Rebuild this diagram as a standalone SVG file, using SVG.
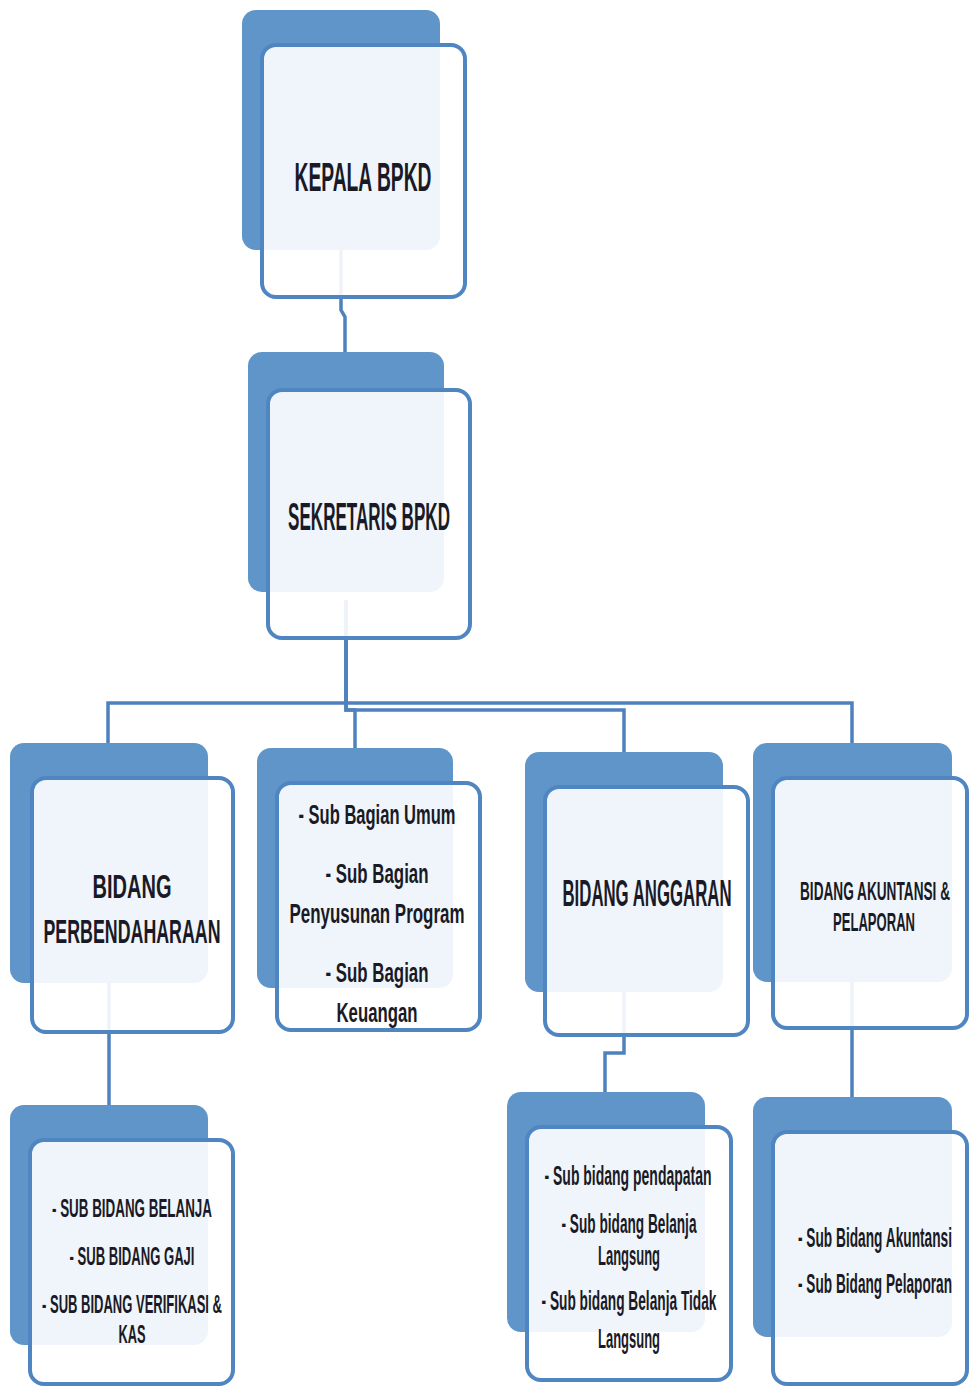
<svg xmlns="http://www.w3.org/2000/svg" width="969" height="1387" viewBox="0 0 969 1387">
<style>
.back{fill:#6095c9}
.front{fill:#ffffff;fill-opacity:0.9;stroke:#4f86c2;stroke-width:4}
.t{font-family:"Liberation Sans",Arial,sans-serif;font-weight:bold;fill:#1a1a26;text-anchor:middle}
.conn{fill:none;stroke:#4f81bd;stroke-width:3.5}
</style>
<rect width="969" height="1387" fill="#ffffff"/>
<g id="connectors">
<path class="conn" d="M341 240 V310 L345 317 V352"/>
<path class="conn" d="M346 600 V703 H108 V743"/>
<path class="conn" d="M346 600 V710 H355 V748"/>
<path class="conn" d="M346 600 V710 H624 V752"/>
<path class="conn" d="M346 703 H852 V743"/>
<path class="conn" d="M109 980 V1105"/>
<path class="conn" d="M624 990 V1053 H605 V1092"/>
<path class="conn" d="M852 980 V1097"/>
</g>
<g id="kepala">
<rect class="back" x="242" y="10" width="198" height="240" rx="14"/>
<rect class="front" x="262" y="45" width="203" height="252" rx="14"/>
<text class="t" x="363" y="191" font-size="40" textLength="137" lengthAdjust="spacingAndGlyphs">KEPALA BPKD</text>
</g>
<g id="sekretaris">
<rect class="back" x="248" y="352" width="196" height="240" rx="14"/>
<rect class="front" x="268" y="390" width="202" height="248" rx="14"/>
<text class="t" x="369" y="530" font-size="38" textLength="162" lengthAdjust="spacingAndGlyphs">SEKRETARIS BPKD</text>
</g>
<g id="perbendaharaan">
<rect class="back" x="10" y="743" width="198" height="240" rx="14"/>
<rect class="front" x="32" y="778" width="201" height="254" rx="14"/>
<text class="t" x="132" y="898" font-size="33" textLength="79" lengthAdjust="spacingAndGlyphs">BIDANG</text>
<text class="t" x="132" y="943" font-size="33" textLength="177" lengthAdjust="spacingAndGlyphs">PERBENDAHARAAN</text>
</g>
<g id="subbagian">
<rect class="back" x="257" y="748" width="196" height="240" rx="14"/>
<rect class="front" x="277" y="783" width="203" height="247" rx="14"/>
<text class="t" x="377" y="824" font-size="28" textLength="157" lengthAdjust="spacingAndGlyphs">- Sub Bagian Umum</text>
<text class="t" x="377" y="883" font-size="28" textLength="103" lengthAdjust="spacingAndGlyphs">- Sub Bagian</text>
<text class="t" x="377" y="923" font-size="28" textLength="175" lengthAdjust="spacingAndGlyphs">Penyusunan Program</text>
<text class="t" x="377" y="982" font-size="28" textLength="103" lengthAdjust="spacingAndGlyphs">- Sub Bagian</text>
<text class="t" x="377" y="1022" font-size="28" textLength="81" lengthAdjust="spacingAndGlyphs">Keuangan</text>
</g>
<g id="anggaran">
<rect class="back" x="525" y="752" width="198" height="240" rx="14"/>
<rect class="front" x="545" y="787" width="203" height="248" rx="14"/>
<text class="t" x="647" y="906" font-size="36" textLength="169" lengthAdjust="spacingAndGlyphs">BIDANG ANGGARAN</text>
</g>
<g id="akuntansi">
<rect class="back" x="753" y="743" width="199" height="239" rx="14"/>
<rect class="front" x="773" y="778" width="194" height="250" rx="14"/>
<text class="t" x="875" y="900" font-size="26" textLength="150" lengthAdjust="spacingAndGlyphs">BIDANG AKUNTANSI &amp;</text>
<text class="t" x="874" y="931" font-size="26" textLength="82" lengthAdjust="spacingAndGlyphs">PELAPORAN</text>
</g>
<g id="subbidang-perbendaharaan">
<rect class="back" x="10" y="1105" width="198" height="240" rx="14"/>
<rect class="front" x="30" y="1140" width="203" height="244" rx="14"/>
<text class="t" x="132" y="1217" font-size="25" textLength="160" lengthAdjust="spacingAndGlyphs">- SUB BIDANG  BELANJA</text>
<text class="t" x="132" y="1265" font-size="25" textLength="125" lengthAdjust="spacingAndGlyphs">- SUB BIDANG GAJI</text>
<text class="t" x="132" y="1313" font-size="25" textLength="180" lengthAdjust="spacingAndGlyphs">- SUB BIDANG VERIFIKASI &amp;</text>
<text class="t" x="132" y="1343" font-size="25" textLength="27" lengthAdjust="spacingAndGlyphs">KAS</text>
</g>
<g id="subbidang-anggaran">
<rect class="back" x="507" y="1092" width="198" height="240" rx="14"/>
<rect class="front" x="527" y="1127" width="204" height="253" rx="14"/>
<text class="t" x="628" y="1185" font-size="28" textLength="167" lengthAdjust="spacingAndGlyphs">- Sub bidang pendapatan</text>
<text class="t" x="629" y="1233" font-size="28" textLength="135" lengthAdjust="spacingAndGlyphs">- Sub bidang Belanja</text>
<text class="t" x="629" y="1265" font-size="28" textLength="62" lengthAdjust="spacingAndGlyphs">Langsung</text>
<text class="t" x="629" y="1310" font-size="28" textLength="175" lengthAdjust="spacingAndGlyphs">- Sub bidang Belanja Tidak</text>
<text class="t" x="629" y="1348" font-size="28" textLength="62" lengthAdjust="spacingAndGlyphs">Langsung</text>
</g>
<g id="subbidang-akuntansi">
<rect class="back" x="753" y="1097" width="199" height="240" rx="14"/>
<rect class="front" x="773" y="1132" width="194" height="252" rx="14"/>
<text class="t" x="875" y="1247" font-size="28" textLength="154" lengthAdjust="spacingAndGlyphs">- Sub Bidang Akuntansi</text>
<text class="t" x="875" y="1293" font-size="28" textLength="154" lengthAdjust="spacingAndGlyphs">- Sub Bidang Pelaporan</text>
</g>
</svg>
